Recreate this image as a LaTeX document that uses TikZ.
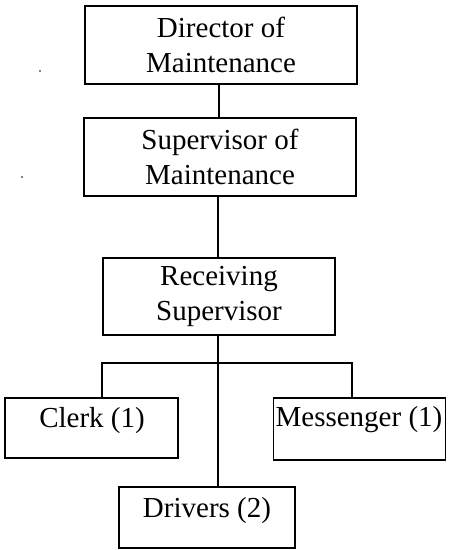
\documentclass[tikz,border=0pt]{standalone}
\usepackage{fontspec}
\setmainfont{Liberation Serif}
\begin{document}
\begin{tikzpicture}[x=1pt,y=-1pt,
  box/.style={draw, line width=1.9pt, inner sep=0pt, outer sep=0pt, align=center,
    font=\fontsize{29}{34.5}\selectfont},
  lbl/.style={anchor=base, inner sep=0pt, font=\fontsize{29}{34.5}\selectfont},
  conn/.style={line width=1.4pt}]
\useasboundingbox[fill=white] (0,0) rectangle (450,550);
\node[box, minimum width=272pt, minimum height=78pt] (dir) at (221,45) {Director of\\Maintenance};
\node[box, minimum width=272pt, minimum height=78pt] (sup) at (220,157) {Supervisor of\\Maintenance};
\node[box, minimum width=232pt, minimum height=77pt] (rec) at (219,296.5) {Receiving\\Supervisor};
\node[box, minimum width=173pt, minimum height=60pt] (clerk) at (91.5,428) {};
\node[box, minimum width=172pt, minimum height=62pt] (mess) at (359.5,429) {};
\node[box, minimum width=176pt, minimum height=61pt] (drv) at (207,517.5) {};
\node[lbl] (clerkt) at (92,427) {Clerk (1)};
\node[lbl] (messt) at (359,426) {Messenger (1)};
\node[lbl] (drvt) at (207,517) {Drivers (2)};
\coordinate (a) at (219,0);
\coordinate (b) at (218,0);
\coordinate (cl) at (102,363);
\coordinate (ms) at (352,363);
\draw[conn] (a |- dir.south) -- (a |- sup.north);
\draw[conn] (b |- sup.south) -- (b |- rec.north);
\draw[conn] (b |- rec.south) -- (b |- drv.north);
\draw[conn] (cl |- clerk.north) -- (cl) -- (ms) -- (ms |- mess.north);
\fill (40,71) circle (0.9pt);
\fill (22,177) circle (0.9pt);
\end{tikzpicture}
\end{document}
